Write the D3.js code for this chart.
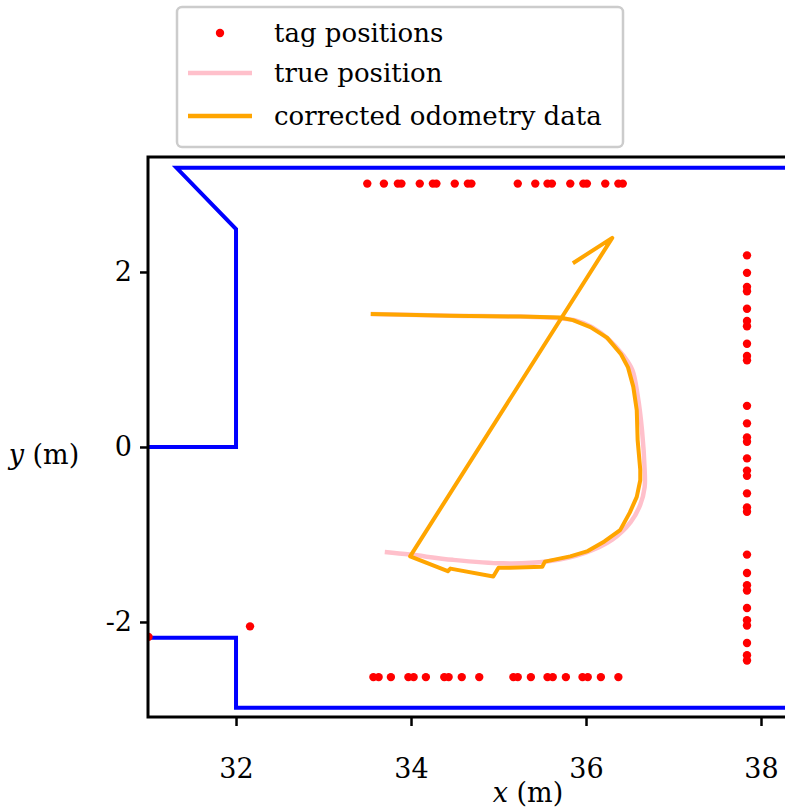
<!DOCTYPE html>
<html>
<head>
<meta charset="utf-8">
<script src="https://cdn.jsdelivr.net/npm/d3@7"></script>
<style>
  body { margin: 0; background: #fff; }
  svg text { font-family: "DejaVu Serif", serif; }
</style>
</head>
<body>
<div id="chart"></div>
<script>
'use strict';

// tag positions (m)
let tagX = [
    33.50, 33.69, 33.85, 33.89, 34.10, 34.25, 34.29, 34.50, 34.65, 34.69,
    35.22, 35.42, 35.56, 35.61, 35.82, 35.97, 36.01, 36.22, 36.37, 36.42,
    37.84, 37.84, 37.84, 37.84, 37.84, 37.84, 37.84, 37.84, 37.84, 37.84,
    37.84, 37.84, 37.84, 37.84, 37.84, 37.84, 37.84, 37.84, 37.84, 37.84,
    37.84, 37.84, 37.84, 37.84, 37.84, 37.84, 37.84, 37.84, 37.84, 37.84,
    33.57, 33.63, 33.77, 33.97, 34.03, 34.17, 34.38, 34.43, 34.58, 34.78,
    35.17, 35.22, 35.37, 35.56, 35.62, 35.77, 35.96, 36.02, 36.17, 36.37,
    32.16, 31.00
];
let tagY = [
    3.01, 3.01, 3.01, 3.01, 3.01, 3.01, 3.01, 3.01, 3.01, 3.01,
    3.01, 3.01, 3.01, 3.01, 3.01, 3.01, 3.01, 3.01, 3.01, 3.01,
    2.19, 1.99, 1.83, 1.78, 1.58, 1.44, 1.38, 1.18, 1.04, 0.99,
    0.47, 0.27, 0.11, 0.06, -0.13, -0.27, -0.33, -0.53, -0.69, -0.74,
    -1.23, -1.44, -1.58, -1.64, -1.84, -1.98, -2.04, -2.24, -2.38, -2.44,
    -2.63, -2.63, -2.63, -2.63, -2.63, -2.63, -2.63, -2.63, -2.63, -2.63,
    -2.63, -2.63, -2.63, -2.63, -2.63, -2.63, -2.63, -2.63, -2.63, -2.63,
    -2.05, -2.17
];

// true position
let trueX = [33.54, 34.45, 35.25, 35.70, 35.87, 36.07, 36.26, 36.43, 36.53, 36.59,
    36.64, 36.67, 36.67, 36.62, 36.51, 36.30, 35.99, 35.55, 35.05, 34.48, 33.99, 33.70];
let trueY = [1.52, 1.50, 1.49, 1.47, 1.45, 1.37, 1.23, 1.04, 0.88, 0.59,
    0.19, -0.26, -0.46, -0.66, -0.86, -1.06, -1.21, -1.31, -1.33, -1.29, -1.23, -1.20];

// corrected odometry data
let odomX = [33.54, 34.45, 35.25, 35.70, 35.85, 36.05, 36.24, 36.40, 36.48, 36.54,
    36.58, 36.59, 36.62, 36.62, 36.58, 36.50, 36.39, 36.21, 36.02, 35.82,
    35.53, 35.50, 35.13, 35.00, 34.94, 34.45, 34.42, 33.99, 36.30, 35.85];
let odomY = [1.52, 1.50, 1.49, 1.48, 1.45, 1.37, 1.25, 1.06, 0.91, 0.69,
    0.42, 0.08, -0.26, -0.38, -0.57, -0.75, -0.95, -1.08, -1.19, -1.25,
    -1.31, -1.37, -1.38, -1.38, -1.48, -1.39, -1.42, -1.25, 2.39, 2.10];

// walls
let wallX = [30.5, 32.0, 32.0, 31.32, 38.30, 38.30, 32.0, 32.0, 30.5];
let wallY = [0.0, 0.0, 2.49, 3.19, 3.19, -2.98, -2.98, -2.18, -2.18];

let xTicks = [32, 34, 36, 38];
let yTicks = [-2, 0, 2];

let W = 785, H = 807;
let mLeft = 148, mRight = 796, mTop = 157, mBottom = 717;

let svg = d3.select('#chart').append('svg')
    .attr('width', W)
    .attr('height', H);

let x = d3.scaleLinear()
    .domain([30.994, 38.4])
    .range([mLeft, mRight]);

let y = d3.scaleLinear()
    .domain([-3.086, 3.314])
    .range([mBottom, mTop]);

svg.append('clipPath')
    .attr('id', 'clip')
    .append('rect')
        .attr('x', mLeft)
        .attr('y', mTop)
        .attr('width', mRight - mLeft)
        .attr('height', mBottom - mTop);

let plot = svg.append('g').attr('clip-path', 'url(#clip)');

let line = d3.line()
    .x((d) => x(d[0]))
    .y((d) => y(d[1]));

plot.append('path')
    .datum(wallX.map((v, i) => [v, wallY[i]]))
    .attr('d', line)
    .attr('fill', 'none')
    .attr('stroke', '#0000ff')
    .attr('stroke-width', 4);

plot.selectAll('circle.tag')
    .data(tagX)
    .enter()
    .append('circle')
        .attr('class', 'tag')
        .attr('cx', (d) => x(d))
        .attr('cy', (d, i) => y(tagY[i]))
        .attr('r', 4.2)
        .attr('fill', '#ff0000');

plot.append('path')
    .datum(trueX.map((v, i) => [v, trueY[i]]))
    .attr('d', line.curve(d3.curveCatmullRom))
    .attr('fill', 'none')
    .attr('stroke', 'pink')
    .attr('stroke-width', 4.5);

plot.append('path')
    .datum(odomX.map((v, i) => [v, odomY[i]]))
    .attr('d', line.curve(d3.curveLinear))
    .attr('fill', 'none')
    .attr('stroke', 'orange')
    .attr('stroke-width', 4)
    .attr('stroke-linejoin', 'round');

// frame
svg.append('rect')
    .attr('x', mLeft)
    .attr('y', mTop)
    .attr('width', mRight - mLeft)
    .attr('height', mBottom - mTop)
    .attr('fill', 'none')
    .attr('stroke', '#000')
    .attr('stroke-width', 3);

let xAxis = svg.append('g')
    .attr('transform', 'translate(0,' + mBottom + ')')
    .call(d3.axisBottom(x).tickValues(xTicks).tickSize(9).tickPadding(33).tickFormat(d3.format('d')));

let yAxis = svg.append('g')
    .attr('transform', 'translate(' + mLeft + ',0)')
    .call(d3.axisLeft(y).tickValues(yTicks).tickSize(8).tickPadding(8).tickFormat((d) => d < 0 ? '-' + (-d) : d));

[xAxis, yAxis].forEach((ax) => {
    ax.select('.domain').remove();
    ax.selectAll('line').attr('stroke', '#000').attr('stroke-width', 2.5);
    ax.selectAll('text')
        .attr('fill', '#000')
        .style('font-size', '27px')
        .style('font-family', '"DejaVu Serif", serif');
});

// axis labels
let xl = svg.append('text')
    .attr('x', 528)
    .attr('y', 802)
    .attr('text-anchor', 'middle')
    .style('font-size', '27px');
xl.append('tspan').style('font-style', 'italic').text('x');
xl.append('tspan').text(' (m)');

let yl = svg.append('text')
    .attr('x', 44)
    .attr('y', 464)
    .attr('text-anchor', 'middle')
    .style('font-size', '27px');
yl.append('tspan').style('font-style', 'italic').text('y');
yl.append('tspan').text(' (m)');

// legend
let legend = svg.append('g');
legend.append('rect')
    .attr('x', 177)
    .attr('y', 7)
    .attr('width', 446)
    .attr('height', 140)
    .attr('rx', 5)
    .attr('fill', '#fff')
    .attr('stroke', '#cccccc')
    .attr('stroke-width', 2.5);

let legendNames = ['tag positions', 'true position', 'corrected odometry data'];
let legendRowY = [33, 73, 116];

legend.append('circle')
    .attr('cx', 220)
    .attr('cy', legendRowY[0])
    .attr('r', 4.2)
    .attr('fill', '#ff0000');
legend.append('line')
    .attr('x1', 188).attr('x2', 252)
    .attr('y1', legendRowY[1]).attr('y2', legendRowY[1])
    .attr('stroke', 'pink')
    .attr('stroke-width', 4.5);
legend.append('line')
    .attr('x1', 188).attr('x2', 252)
    .attr('y1', legendRowY[2]).attr('y2', legendRowY[2])
    .attr('stroke', 'orange')
    .attr('stroke-width', 4.5);

legend.selectAll('text')
    .data(legendNames)
    .enter()
    .append('text')
        .attr('x', 274)
        .attr('y', (d, i) => legendRowY[i] + 9)
        .style('font-size', '26px')
        .text((d) => d);
</script>
</body>
</html>
